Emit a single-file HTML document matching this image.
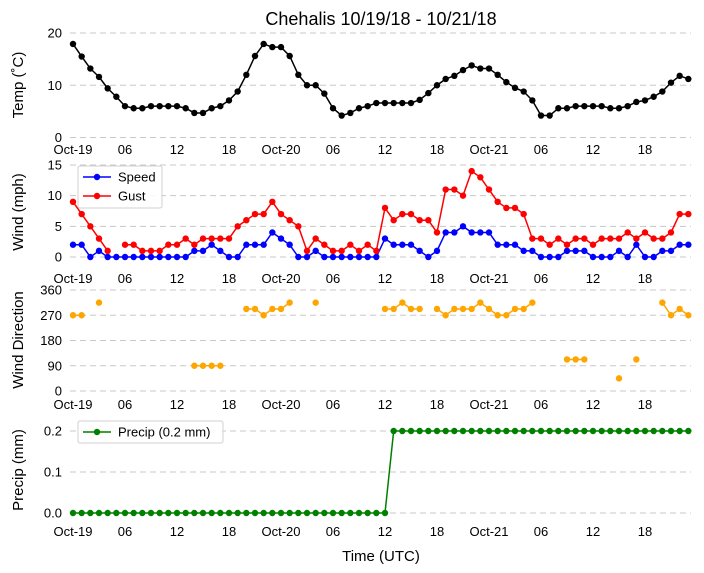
<!DOCTYPE html>
<html><head><meta charset="utf-8"><style>
body{margin:0;background:#fff;}
svg{display:block;font-family:"Liberation Sans","DejaVu Sans",sans-serif;}
</style></head><body>
<svg id="chart" width="704" height="573" viewBox="0 0 704 573" xmlns="http://www.w3.org/2000/svg">
<text x="381" y="25" font-size="18" text-anchor="middle">Chehalis 10/19/18 - 10/21/18</text>
<text x="381" y="561" font-size="15" text-anchor="middle">Time (UTC)</text>
<g id="layer"></g>
</svg>
<script>
const xTickLabels = ["Oct-19","06","12","18","Oct-20","06","12","18","Oct-21","06","12","18"];
const temp = [17.9,15.5,13.2,11.6,9.4,7.8,6,5.6,5.6,6,6,6,6,5.6,4.7,4.7,5.6,6,7.1,8.8,12,15.6,17.9,17.3,17.3,15.6,12,10,10,8.4,5.6,4.2,4.7,5.6,6,6.6,
6.6,6.6,6.6,6.6,7.2,8.5,10,11.2,11.8,12.9,13.8,13.2,13.2,12,10.6,9.5,8.8,7.1,4.2,4.2,5.6,5.6,6,6,6,6,5.6,5.6,6,6.8,7.1,7.8,8.8,10.5,11.8,11.2];
const speed = [2,2,0,1,0,0,0,0,0,0,0,0,0,0,1,1,2,1,0,0,2,2,2,4,3,2,0,0,1,0,0,0,0,0,0,0,
3,2,2,2,1,0,1,4,4,5,4,4,4,2,2,2,1,1,0,0,0,1,1,1,0,0,0,1,0,2,0,0,1,1,2,2];
const gust = [9,7,5,3,1,null,2,2,1,1,1,2,2,3,2,3,3,3,3,5,6,7,7,9,7,6,5,1,3,2,1,1,2,1,2,1,
8,6,7,7,6,6,4,11,11,10,14,13,11,9,8,8,7,3,3,2,3,2,3,3,2,3,3,3,4,3,4,3,3,4,7,7];
const dir = [270,270,null,315,null,null,null,null,null,null,null,null,null,null,90,90,90,90,null,null,292.5,292.5,270,292.5,292.5,315,null,null,315,null,null,null,null,null,null,null,
292.5,292.5,315,292.5,292.5,null,292.5,270,292.5,292.5,292.5,315,292.5,270,270,292.5,292.5,315,null,null,null,112.5,112.5,112.5,null,null,null,45,null,112.5,null,null,315,270,292.5,270];
const precip = [];
for (let i=0;i<72;i++) precip.push(i<=36?0:0.2);

const NS="http://www.w3.org/2000/svg";
const layer=document.getElementById('layer');
function mk(tag,attrs,parent){const e=document.createElementNS(NS,tag);for(const k in attrs)e.setAttribute(k,attrs[k]);(parent||layer).appendChild(e);return e;}
const X0=73,X1=689.2,XMAX=71.1;
function xs(h){return X0+(X1-X0)*h/XMAX;}

const panels=[
 {name:'temp',y0:137.5,y1:33,min:0,max:20,ticks:[0,10,20],tickTxt:['0','10','20'],label:'Temp (˚C)',labY:85,xlab:154},
 {name:'wind',y0:257,y1:165,min:0,max:15,ticks:[0,5,10,15],tickTxt:['0','5','10','15'],label:'Wind (mph)',labY:212,xlab:283},
 {name:'direction',y0:391,y1:290,min:0,max:360,ticks:[0,90,180,270,360],tickTxt:['0','90','180','270','360'],label:'Wind Direction',labY:340,xlab:409},
 {name:'precip',y0:513,y1:431,min:0,max:0.2,ticks:[0,0.1,0.2],tickTxt:['0.0','0.1','0.2'],label:'Precip (mm)',labY:470,xlab:536}
];
panels.forEach(p=>{
 p.ys=v=>p.y0+(p.y1-p.y0)*(v-p.min)/(p.max-p.min);
 const g=mk('g',{});
 
 
 p.ticks.forEach((t,i)=>{
  const gl=mk('line',{x1:70,x2:691,y1:p.ys(t),y2:p.ys(t),stroke:'#c8c8c8','stroke-width':1,'stroke-dasharray':'6,4'},g);
  
  
  const tt=mk('text',{x:62,y:p.ys(t)+4.5,'font-size':13,'text-anchor':'end'},g);
  
  
  tt.textContent=p.tickTxt[i];
 });
 xTickLabels.forEach((l,i)=>{
  const t=mk('text',{x:xs(i*6),y:p.xlab,'font-size':13,'text-anchor':'middle'},g);
  
  
  t.textContent=l;
 });
 const yl=mk('text',{x:0,y:0,'font-size':15,'text-anchor':'middle',transform:`translate(23,${p.labY}) rotate(-90)`},g);
 
 
 yl.textContent=p.label;
});

function series(p,arr,color,name){
 const g=mk('g',{});
 
 
 let seg=[];
 const flush=()=>{if(seg.length>1){const pl=mk('polyline',{points:seg.join(' '),fill:'none',stroke:color,'stroke-width':1.5},g);
  
  }seg=[];};
 arr.forEach((v,i)=>{if(v===null){flush();return;}seg.push(xs(i)+','+p.ys(v));});
 flush();
 arr.forEach((v,i)=>{if(v===null)return;
  const c=mk('circle',{cx:xs(i),cy:p.ys(v),r:3.2,fill:color},g);
  
  
 });
}
series(panels[0],temp,'#000','temperature');
series(panels[1],speed,'#0000ff','wind-speed');
series(panels[1],gust,'#ff0000','wind-gust');
series(panels[2],dir,'#ffa500','wind-direction');
series(panels[3],precip,'#008000','precip');

function legend(x,y,w,h,items,name){
 const g=mk('g',{});
 
 
 mk('rect',{x:x,y:y,width:w,height:h,fill:'#fff','fill-opacity':0.85,stroke:'#d0d0d0',rx:2},g);
 items.forEach((it,i)=>{
  const cy=y+11+i*19;
  const e=mk('g',{},g);
  
  
  mk('line',{x1:x+5,x2:x+33,y1:cy,y2:cy,stroke:it[1],'stroke-width':1.5},e);
  mk('circle',{cx:x+19,cy:cy,r:3.2,fill:it[1]},e);
  const t=mk('text',{x:x+40,y:cy+4.5,'font-size':13},e);
  t.textContent=it[0];
 });
}
legend(78,166,84,42,[['Speed','#0000ff'],['Gust','#ff0000']],'wind-legend');
legend(78,421,145,22,[['Precip (0.2 mm)','#008000']],'precip-legend');
</script>
</body></html>
